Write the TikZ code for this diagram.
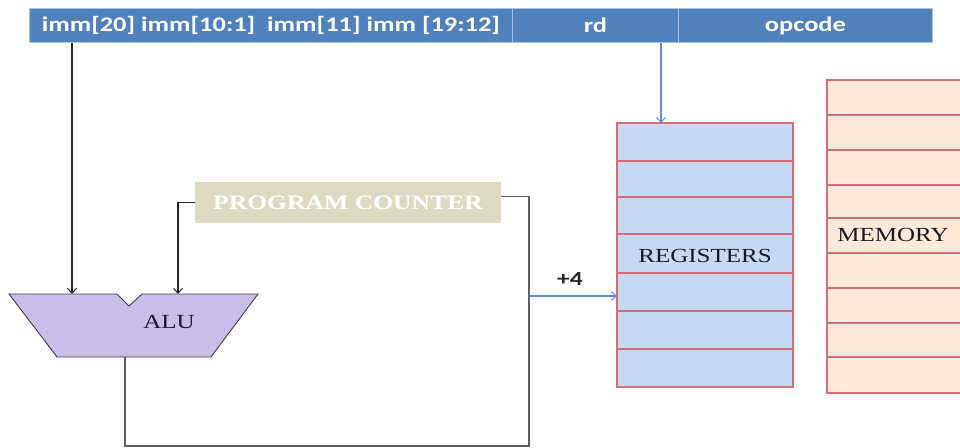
\documentclass[tikz,border=0pt]{standalone}
\usepackage{fontspec}
\setmainfont{Liberation Serif}[FakeStretch=1.25]
\newfontfamily\barfont{Carlito}[FakeStretch=1.27]
\usetikzlibrary{arrows.meta,calc}
\definecolor{barblue}{RGB}{79,129,189}
\definecolor{barline}{RGB}{170,195,225}
\definecolor{alufill}{RGB}{200,190,232}
\definecolor{pcfill}{RGB}{221,217,195}
\definecolor{regfill}{RGB}{198,217,241}
\definecolor{memfill}{RGB}{253,233,217}
\definecolor{cellred}{RGB}{212,110,118}
\definecolor{wireblue}{RGB}{100,140,200}
\definecolor{wiregray}{RGB}{95,95,95}
\definecolor{labeltext}{RGB}{25,25,35}
\tikzset{
  barcell/.style={draw=barline, line width=0.8pt, fill=barblue, anchor=north west,
    inner sep=0pt, text=white, font=\barfont\bfseries\fontsize{20.8}{24}\selectfont},
  serlabel/.style={text=labeltext, inner sep=0pt, font=\fontsize{20}{24}\selectfont},
  blackarr/.style={draw=black!85, line width=1.2pt, -{Straight Barb[length=5pt,width=9pt,line width=1pt]}},
  bluearr/.style={draw=wireblue, line width=1.1pt, -{Straight Barb[length=5pt,width=9pt,line width=1pt]}},
  loopwire/.style={draw=wiregray, line width=1.6pt},
  cellline/.style={draw=cellred, line width=1.4pt},
  cellbox/.style={anchor=north west, inner sep=0pt, outer sep=0pt},
}
\begin{document}
\begin{tikzpicture}[x=1pt,y=-1pt]
\useasboundingbox (0,0) rectangle (960,447);
% instruction bar
\node[barcell, minimum width=483pt, minimum height=34pt] (imm) at (29,8) {imm[20] imm[10:1]\ \ imm[11] imm [19:12]};
\node[barcell, minimum width=166pt, minimum height=34pt] (rd) at (512,8) {rd};
\node[barcell, minimum width=254pt, minimum height=34pt] (opc) at (678,8) {opcode};
% memory
\begin{scope}
\clip (0,0) rectangle (960,447);
\node[cellbox, fill=memfill, minimum width=150pt, minimum height=313pt] (mem) at (827,80) {};
\foreach \yy in {115,150,185,218,253,288,323,357}
  \draw[cellline] (827,\yy) -- (965,\yy);
\draw[cellline] (mem.north west) rectangle (mem.south east);
\end{scope}
\node[serlabel] (memlabel) at (893,235) {MEMORY};
% registers
\node[cellbox, fill=regfill, minimum width=176pt, minimum height=264pt] (reg) at (617,123) {};
\foreach \yy in {161,197,234,273,311,349}
  \draw[cellline] (617,\yy) -- (793,\yy);
\draw[cellline] (reg.north west) rectangle (reg.south east);
\node[serlabel] (reglabel) at (705,256) {REGISTERS};
% program counter
\node[fill=pcfill, minimum width=306pt, minimum height=41pt, inner sep=0pt, text=white,
  font=\bfseries\fontsize{20.5}{24}\selectfont] (pc) at (348,202.5) {PROGRAM COUNTER};
% ALU
\draw[draw=black!75, line width=0.9pt, fill=alufill]
  (9,294) -- (117,294) -- (129,306) -- (142,294) -- (258,294) -- (211,357) -- (57,357) -- cycle;
\node[serlabel] (alu) at (169,322) {ALU};
\coordinate (aluinL) at (72,294);
\coordinate (aluinR) at (178,294);
\coordinate (aluout) at (125,357);
\coordinate (loopBR) at (529,446);
\coordinate (tap) at (529,296);
\coordinate (regin) at (661,123);
% connectors
\draw[blackarr] (imm.south -| aluinL) -- (aluinL);
\draw[blackarr] (pc.west) -| (aluinR);
\draw[loopwire] (aluout) |- (loopBR) |- ([yshift=6pt]pc.east);
\draw[bluearr] (tap) -- (tap -| reg.west);
\node[text=black!85, inner sep=0pt, font=\barfont\bfseries\fontsize{20}{24}\selectfont] (plusfour) at (570,279) {+4};
\draw[bluearr] (rd.south -| regin) -- (regin);
\end{tikzpicture}
\end{document}
